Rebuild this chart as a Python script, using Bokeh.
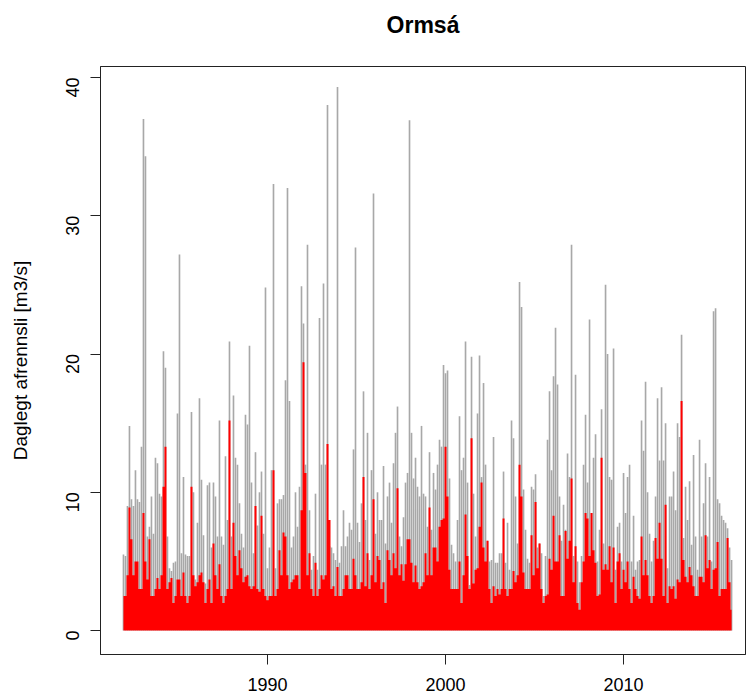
import math
import numpy as np
from bokeh.plotting import figure
from bokeh.models import Range1d, FixedTicker, Title
from bokeh.embed import file_html
from bokeh.resources import INLINE

start_year = 1981.91
step_years = 0.11236

grey_max = [
    5.5, 5.4, 9.0, 14.8, 9.5, 9.0, 11.6, 9.5, 9.3, 13.3, 37.0, 34.3, 6.8, 7.5, 9.7, 7.0, 12.5, 12.1, 9.9, 9.7,
    20.2, 19.0, 6.8, 4.5, 4.3, 4.9, 5.0, 15.7, 27.2, 5.6, 11.1, 5.5, 5.4, 5.4, 15.8, 10.0, 3.7, 7.8, 16.8, 10.9,
    6.9, 3.4, 10.5,
    10.7, 6.0, 10.7, 9.7, 6.8, 15.2, 6.8, 6.2, 12.6, 8.0, 20.9, 6.8, 17.0, 12.5, 12.0, 9.2, 7.0, 6.0, 15.6, 14.9,
    20.6, 10.7, 5.6, 12.9, 7.6, 10.0, 11.5, 7.0, 24.8, 4.5, 6.0, 11.6, 32.3, 4.5, 9.2, 9.5, 9.5, 9.8, 18.1, 32.0,
    16.6, 6.0, 6.8, 10.0,
    7.5, 10.4, 24.9, 22.2, 12.0, 27.9, 8.7, 4.4, 5.4, 9.9, 4.4, 22.6, 12.0, 25.1, 12.0, 38.0, 6.1, 6.0, 5.6, 5.1,
    39.3, 4.9, 6.1, 8.7, 6.1, 6.8, 7.8, 7.3, 13.1, 27.7, 7.8, 6.4, 9.2, 17.3, 8.0, 14.3, 5.1, 11.6, 31.6, 7.0,
    10.0, 8.0, 8.0, 11.9,
    6.3, 9.7, 10.7, 7.8, 12.1, 14.3, 16.2, 6.8, 6.1, 8.2, 10.7, 11.4, 36.9, 14.3, 11.0, 12.5, 10.4, 9.7, 14.8, 9.9,
    9.7, 7.5, 12.9, 7.3, 11.4, 10.2, 12.0, 13.8, 13.3, 19.2, 18.6, 18.8, 11.0, 6.2, 5.6, 5.0, 8.0, 15.5, 11.6, 12.5,
    20.9, 10.7, 3.3, 19.8,
    9.9, 6.8, 15.7, 19.9, 11.1, 17.9, 12.0, 6.5, 5.0, 5.1, 14.0, 4.9, 4.9, 5.6, 5.6, 11.5, 4.9, 7.8, 4.4, 15.2,
    13.9, 9.7, 6.3, 25.2, 23.4, 10.2, 7.3, 5.2, 4.9, 10.4, 10.2, 11.3, 6.0, 6.3, 5.6, 2.5, 5.4, 13.8, 17.3, 11.6,
    18.4, 21.9, 17.8, 9.7,
    6.5, 9.1, 7.3, 12.8, 11.1, 27.9, 5.4, 18.5, 5.0, 3.5, 5.4, 12.0, 15.6, 10.7, 22.5, 8.5, 12.5, 14.2, 5.0, 7.3,
    16.0, 6.3, 25.0, 20.0, 11.1, 10.9, 20.4, 4.4, 7.5, 7.8, 5.0, 11.4, 8.5, 11.1, 12.0, 5.0, 8.3, 4.4, 5.0, 5.1,
    15.2, 13.0, 18.0, 10.0,
    7.0, 5.0, 6.5, 9.7, 16.8, 12.3, 17.6, 12.3, 15.0, 4.5, 9.7, 9.7, 11.5, 8.7, 15.0, 14.0, 21.4, 6.7, 10.4, 8.0,
    10.8, 6.2, 12.7, 6.8, 4.4, 13.8, 6.8, 9.2, 12.1, 6.8, 11.1, 5.0, 23.1, 23.3, 9.5, 9.2, 8.3, 8.0, 7.8, 7.4,
    6.0, 5.1,
]

red_max = [
    2.5, 2.5, 4.0, 8.9, 6.6, 4.0, 5.0, 5.0, 3.0, 3.0, 8.5, 5.0, 3.7, 6.6, 2.5, 2.5, 3.0, 3.8, 3.0, 4.0,
    10.4, 13.3, 3.0, 3.5, 3.8, 2.0, 2.5, 3.7, 3.7, 2.5, 4.2, 2.5, 2.0, 2.5, 10.4, 4.0, 3.2, 3.5, 4.0, 4.2,
    3.5, 2.0, 3.0,
    3.7, 2.0, 6.3, 4.0, 3.0, 4.8, 2.5, 2.0, 2.5, 3.0, 15.2, 3.0, 7.8, 5.4, 4.0, 5.8, 4.5, 3.5, 3.9, 4.0,
    3.2, 3.0, 3.2, 9.0, 3.0, 2.8, 8.3, 3.0, 2.5, 2.2, 2.5, 2.5, 11.6, 2.5, 3.0, 5.8, 4.0, 7.1, 6.8, 4.0,
    3.0, 3.5, 3.7, 4.0,
    4.0, 3.0, 8.7, 19.4, 11.4, 4.0, 5.6, 3.0, 2.5, 4.9, 2.5, 3.0, 4.0, 3.7, 4.0, 13.5, 8.0, 3.0, 3.2, 2.5,
    4.6, 2.5, 2.5, 3.0, 4.0, 4.0, 3.0, 3.0, 5.2, 4.0, 3.0, 3.0, 3.5, 11.1, 3.2, 5.6, 3.0, 4.0, 9.5, 3.5,
    5.4, 5.1, 3.0, 3.5,
    2.0, 5.8, 5.1, 4.0, 5.6, 4.5, 10.3, 4.0, 4.8, 3.6, 4.8, 6.6, 6.6, 4.9, 3.5, 4.7, 3.5, 3.0, 3.2, 3.5,
    5.6, 4.0, 8.9, 4.0, 6.0, 6.0, 5.0, 7.5, 8.0, 8.1, 13.3, 9.7, 4.4, 3.0, 3.0, 3.0, 3.0, 5.0, 2.0, 4.0,
    8.4, 5.4, 3.0, 13.9,
    3.4, 4.4, 4.5, 7.5, 10.7, 6.0, 5.0, 6.5, 3.0, 2.0, 3.2, 2.5, 3.0, 2.6, 3.0, 8.1, 3.0, 2.5, 3.0, 3.0,
    4.3, 3.5, 4.0, 12.0, 9.7, 4.2, 3.0, 3.0, 3.0, 6.9, 4.0, 9.3, 4.5, 6.3, 3.0, 2.0, 2.5, 2.6, 5.2, 4.4,
    8.3, 5.0, 5.0, 6.9,
    2.5, 2.5, 7.2, 5.2, 6.5, 11.0, 3.5, 6.1, 2.0, 1.5, 3.5, 5.0, 8.5, 8.1, 5.4, 8.5, 5.8, 4.9, 2.5, 2.6,
    12.5, 4.4, 4.8, 4.4, 6.1, 3.5, 6.0, 2.0, 5.0, 5.6, 3.0, 4.4, 3.5, 5.0, 3.0, 2.0, 3.9, 3.0, 2.5, 2.3,
    6.8, 4.0, 5.1, 4.0,
    2.5, 2.0, 2.5, 6.7, 5.2, 7.8, 5.2, 2.5, 9.1, 2.0, 3.2, 3.0, 3.2, 2.3, 3.7, 3.5, 16.6, 5.1, 3.9, 3.5,
    4.6, 4.0, 3.2, 2.5, 2.5, 3.9, 3.9, 3.5, 6.9, 4.5, 5.1, 3.0, 4.4, 4.5, 6.4, 2.5, 3.0, 3.0, 3.0, 6.7,
    3.5, 1.5,
]

x_ticks = [1990, 2000, 2010]
y_ticks = [0, 10, 20, 30, 40]
title_text = "Ormsá"
y_label = "Daglegt afrennsli [m3/s]"

years = start_year + step_years * np.arange(len(grey_max))

FONT = "Liberation Sans"

p = figure(width=747, height=697, output_backend="svg", toolbar_location=None,
           x_range=Range1d(1980.62, 2016.85), y_range=Range1d(-1.73, 40.79),
           min_border_left=100, min_border_right=2, min_border_top=66, min_border_bottom=43,
           background_fill_color="white", border_fill_color="white")
p.title = None

p.vbar(x=years, top=grey_max, bottom=0, width=0.092, fill_color="#A8A8A8", line_color=None)
p.varea_step(x=years, y1=0, y2=red_max, step_mode="center", fill_color="#FF0000")

p.xgrid.visible = False
p.ygrid.visible = False
p.outline_line_color = "#222222"
p.outline_line_width = 1

# empty spacer next to the frame, then the title above it
p.add_layout(Title(text=" ", text_font_size="1px", standoff=17), "above")
p.add_layout(Title(text=title_text, align="center", text_font=FONT, text_font_size="23px",
                   text_font_style="bold", text_color="black", standoff=18), "above")

for ax in (p.xaxis[0], p.yaxis[0]):
    ax.axis_line_color = "#222222"
    ax.major_tick_line_color = "#222222"
    ax.major_tick_out = 10
    ax.major_tick_in = 0
    ax.minor_tick_line_color = None
    ax.major_label_text_font = FONT
    ax.major_label_text_font_size = "18px"
    ax.major_label_text_color = "black"

p.xaxis.ticker = FixedTicker(ticks=x_ticks)
p.xaxis.major_label_standoff = 13
p.yaxis.ticker = FixedTicker(ticks=y_ticks)
p.yaxis.major_label_orientation = math.pi / 2
p.yaxis.major_label_standoff = 18
p.yaxis.axis_label = y_label
p.yaxis.axis_label_text_font = FONT
p.yaxis.axis_label_text_font_size = "19px"
p.yaxis.axis_label_text_font_style = "normal"
p.yaxis.axis_label_text_color = "black"
p.yaxis.axis_label_standoff = 26

open("out.html", "w").write(file_html(p, INLINE))
